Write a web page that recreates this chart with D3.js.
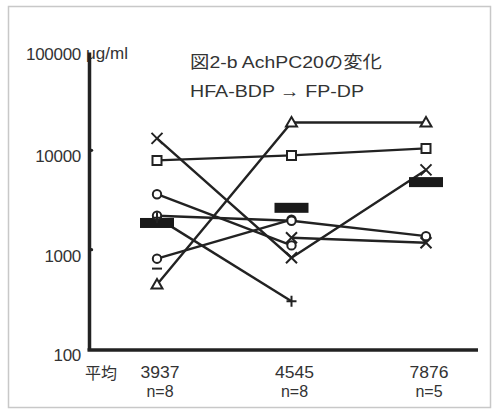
<!DOCTYPE html>
<html>
<head>
<meta charset="utf-8">
<script src="https://cdn.jsdelivr.net/npm/d3@7"></script>
<style>
  body { margin: 0; background: #fff; }
  svg { display: block; font-family: "Liberation Sans", Arial, "Noto Sans CJK JP", sans-serif; }
</style>
</head>
<body>
<svg width="497" height="416"></svg>
<script>
let svg = d3.select("svg");

// data
const groups = ["g1", "g2", "g3"];
const means = ["3937", "4545", "7876"];
const counts = ["n=8", "n=8", "n=5"];
const meanBars = [1900, 2700, 4900];
const yTicks = [100, 1000, 10000, 100000];

const triangleVals = [457, 19500, 19500];
const squareVals = [8100, 9100, 10700];
const cross1Vals = [13500, 850, 6500];
const circleVals = [3700, 1130, null];
const diamondVals = [830, 2050, null];
const flatVals = [2250, 2000, 1400];
const plusVals = [2150, 310, null];
const cross2Vals = [null, 1350, 1200];
const dashVals = [660, null, null];

const series = [
    {vals: triangleVals, mark: "triangle"},
    {vals: squareVals, mark: "square"},
    {vals: cross1Vals, mark: "cross"},
    {vals: circleVals, mark: "circle"},
    {vals: diamondVals, mark: "circle"},
    {vals: flatVals, mark: "circle"},
    {vals: plusVals, mark: "plus"},
    {vals: cross2Vals, mark: "cross"},
    {vals: dashVals, mark: "dash"}
];

const ink = "#222";
const textInk = "#333";
const fs = 17;

let x = d3.scalePoint().domain(groups).range([157, 426]);
let y = d3.scaleLog().domain([100, 100000]).range([350, 52]);

// outer frame
svg.append("rect")
    .attr("x", 8.5).attr("y", 6.5)
    .attr("width", 482).attr("height", 401)
    .attr("fill", "none").attr("stroke", "#c8c8c8").attr("stroke-width", 1.5);

// unit label (the axis runs over the μ, as in the scan)
svg.append("text")
    .attr("x", 86).attr("y", 59)
    .attr("font-size", fs).attr("fill", textInk)
    .text("μg/ml");

// y axis
let yAxis = svg.append("g")
    .attr("transform", "translate(89,0)")
    .call(d3.axisLeft(y).tickValues(yTicks).tickFormat(d3.format("d")).tickSize(0).tickPadding(8));
yAxis.select(".domain").attr("stroke", ink).attr("stroke-width", 3.5);
yAxis.selectAll(".tick line").remove();
yAxis.selectAll("text")
    .attr("font-size", fs).attr("fill", textInk)
    .attr("font-family", "Liberation Sans, Arial, sans-serif")
    .attr("letter-spacing", -0.3)
    .attr("dy", d => d === 100000 ? "0.42em" : "0.62em");

// small tick nubs
svg.append("g").selectAll("circle")
    .data(yTicks.slice(1, 3))
    .enter().append("circle")
    .attr("cx", 91.5).attr("cy", d => y(d) - 1).attr("r", 1.7).attr("fill", ink);

// x axis line
svg.append("line")
    .attr("x1", 87.5).attr("x2", 478)
    .attr("y1", y(100)).attr("y2", y(100))
    .attr("stroke", ink).attr("stroke-width", 3.5);

// title
svg.append("text")
    .attr("x", 190).attr("y", 68)
    .attr("font-size", 17).attr("fill", textInk)
    .attr("textLength", 192).attr("lengthAdjust", "spacingAndGlyphs")
    .text("図2-b  AchPC20の変化");
svg.append("text")
    .attr("x", 190).attr("y", 97)
    .attr("font-size", 17).attr("fill", textInk)
    .attr("textLength", 174).attr("lengthAdjust", "spacingAndGlyphs")
    .text("HFA-BDP  →  FP-DP");

// bottom labels
svg.append("text")
    .attr("x", 85).attr("y", 379)
    .attr("font-size", 16).attr("fill", textInk)
    .attr("font-family", "Noto Sans CJK JP, sans-serif")
    .text("平均");

svg.append("g").selectAll("text")
    .data(groups)
    .enter().append("text")
    .attr("x", d => x(d) + 3).attr("y", 378)
    .attr("text-anchor", "middle")
    .attr("font-size", 16).attr("fill", textInk)
    .attr("textLength", 39).attr("lengthAdjust", "spacingAndGlyphs")
    .text((d, i) => means[i]);

svg.append("g").selectAll("text")
    .data(groups)
    .enter().append("text")
    .attr("x", d => x(d) + 3).attr("y", 397)
    .attr("text-anchor", "middle")
    .attr("font-size", 16).attr("fill", textInk)
    .text((d, i) => counts[i]);

// lines
let line = d3.line()
    .defined(d => d.v != null)
    .x(d => x(d.g))
    .y(d => y(d.v));

svg.append("g").selectAll("path")
    .data(series)
    .enter().append("path")
    .attr("d", s => line(s.vals.map((v, i) => ({g: groups[i], v: v}))))
    .attr("fill", "none")
    .attr("stroke", ink)
    .attr("stroke-width", 2.4);

// mean bars
svg.append("g").selectAll("rect")
    .data(meanBars)
    .enter().append("rect")
    .attr("x", (d, i) => x(groups[i]) - 17)
    .attr("y", d => y(d) - 5)
    .attr("width", 34).attr("height", 10)
    .attr("fill", "#1a1a1a");

// markers
function markerPath(kind) {
    if (kind === "triangle") return "M0,-5.5L5.5,4L-5.5,4Z";
    if (kind === "square") return "M-4.5,-4.5H4.5V4.5H-4.5Z";
    if (kind === "cross") return "M-5.5,-5.5L5.5,5.5M5.5,-5.5L-5.5,5.5";
    if (kind === "plus") return "M-5,0H5M0,-5.5V5.5";
    if (kind === "dash") return "M-5,0H5";
    return d3.symbol(d3.symbolCircle, 55)();
}

let points = [];
series.forEach(s => {
    s.vals.forEach((v, i) => {
        if (v != null) points.push({g: groups[i], v: v, mark: s.mark});
    });
});

svg.append("g").selectAll("path")
    .data(points)
    .enter().append("path")
    .attr("transform", d => "translate(" + x(d.g) + "," + y(d.v) + ")")
    .attr("d", d => markerPath(d.mark))
    .attr("fill", d => (d.mark === "cross" || d.mark === "plus" || d.mark === "dash") ? "none" : "#fff")
    .attr("stroke", ink)
    .attr("stroke-width", 2);
</script>
</body>
</html>
